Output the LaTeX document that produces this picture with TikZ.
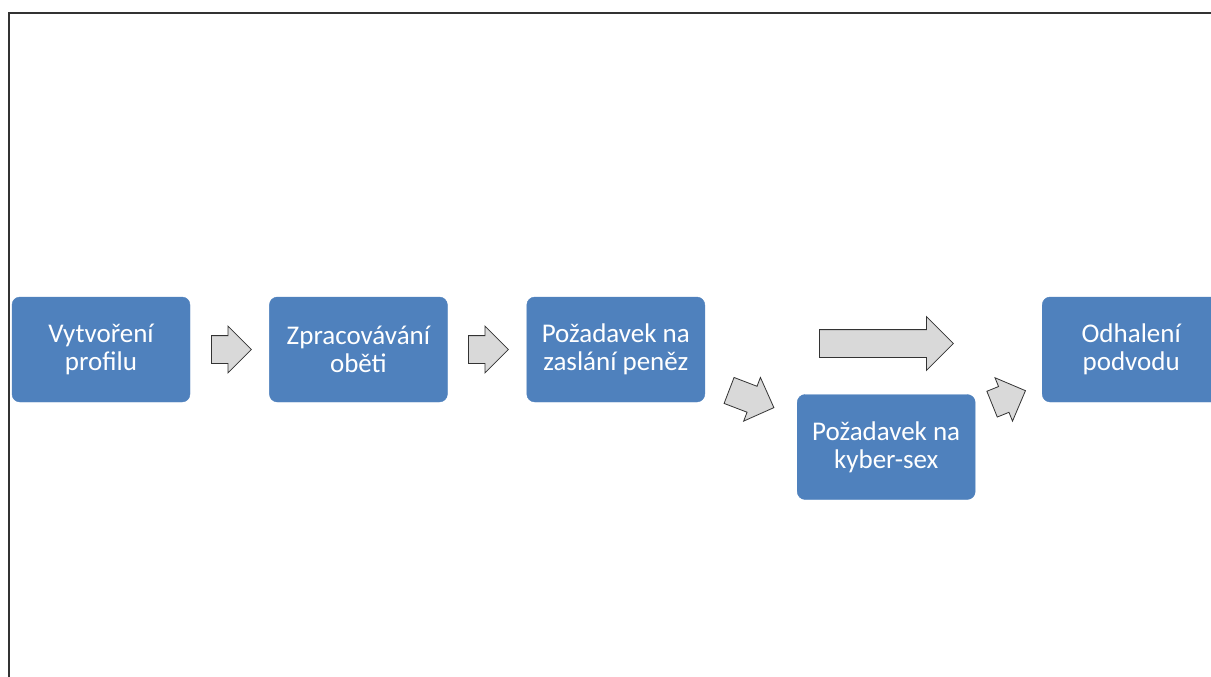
\documentclass[tikz,border=0pt]{standalone}
\usepackage{fontspec}
\setmainfont{Carlito}
\usetikzlibrary{positioning,shapes.arrows}
\definecolor{stepblue}{HTML}{4F81BD}
\definecolor{arrowgray}{HTML}{D9D9D9}
\tikzset{
  stage/.style={draw=stepblue, fill=stepblue, rounded corners=8pt, text=white,
    font=\fontsize{27}{28}\selectfont, align=center, minimum width=178pt,
    minimum height=105pt, inner sep=2pt},
  fwd/.style={single arrow, draw=black!80, fill=arrowgray, line width=0.8pt,
    inner xsep=0pt, inner ysep=13.5pt, single arrow tip angle=90,
    minimum height=40pt, single arrow head extend=9.5pt, anchor=tail},
  frame/.style={line width=1.5pt, black!80},
}

\begin{document}
\begin{tikzpicture}[x=1pt, y=-1pt, node distance=79pt]
  \useasboundingbox (0,0) rectangle (1211,677);
  \draw[frame] (1211,13) -- (9,13) -- (9,677);
  % stages
  \node[stage] (profil) at (101,349.5) {Vytvoření\\profilu};
  \node[stage, right=of profil] (obet) {Zpracovávání\\oběti};
  \node[stage, right=of obet] (penize) {Požadavek na\\zaslání peněz};
  \node[stage, right=92pt of penize, yshift=-97.5pt] (sex) {Požadavek na\\kyber-sex};
  \node[stage, right=337pt of penize] (odhal) {Odhalení\\podvodu};
  % block arrows
  \node[fwd] (a1) at (211,349.5) {};
  \node[fwd] (a2) at (468,349.5) {};
  \node[fwd, rotate=-21, minimum height=48pt] (a3) at (728.7,390.3) {};
  \node[fwd, rotate=22, minimum height=36pt] (a4) at (991.7,404.3) {};
  \node[fwd, minimum height=134pt, single arrow head extend=13pt] (a5) at (819,343.5) {};
\end{tikzpicture}
\end{document}
